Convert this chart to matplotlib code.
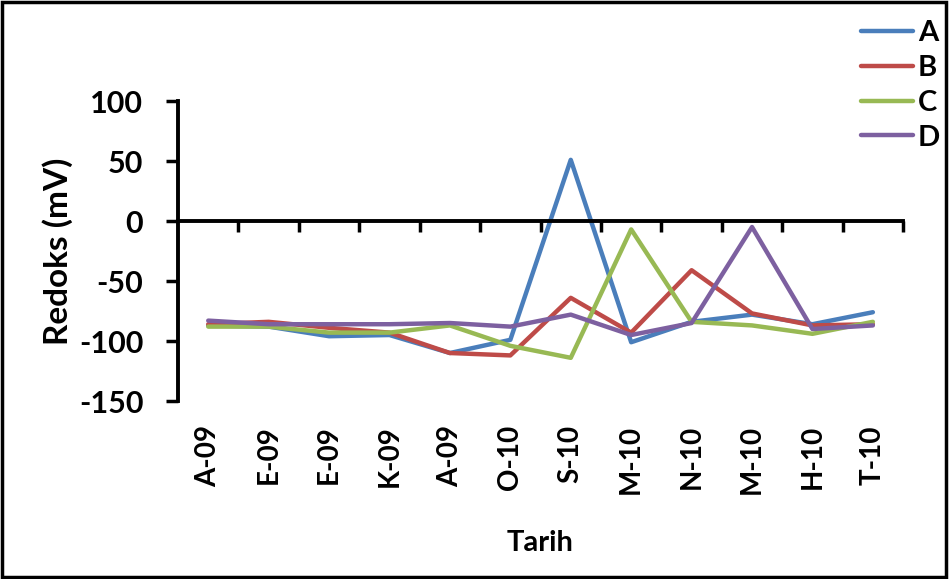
import matplotlib.pyplot as plt
from matplotlib.patches import Rectangle

# months on the x axis
months = ['A-09', 'E-09', 'E-09', 'K-09', 'A-09', 'O-10',
          'S-10', 'M-10', 'N-10', 'M-10', 'H-10', 'T-10']

# redox values (mV)
redox_a = [-87, -88, -96, -95, -110, -99, 51, -101, -84, -78, -86, -76]
redox_b = [-86, -84, -89, -93, -110, -112, -64, -93, -41, -77, -87, -86]
redox_c = [-88, -88, -93, -93, -87, -104, -114, -7, -84, -87, -94, -84]
redox_d = [-83, -86, -86, -86, -85, -88, -78, -95, -85, -5, -90, -87]

series_names = ['A', 'B', 'C', 'D']
colors = ['#4A7EBB', '#BE4B48', '#98B954', '#7D60A0']

plt.rcParams['font.family'] = ['Lato', 'DejaVu Sans']
plt.rcParams['font.weight'] = 'bold'
plt.rcParams['axes.unicode_minus'] = False

fig = plt.figure(figsize=(9.5, 5.79), dpi=100)
ax = fig.add_axes([0.1874, 0.3074, 0.7632, 0.5181])

x = list(range(len(months)))
for vals, name, col in zip([redox_a, redox_b, redox_c, redox_d], series_names, colors):
    ax.plot(x, vals, color=col, lw=3.2, label=name, solid_capstyle='round')

ax.set_xlim(-0.5, len(months) - 0.5)
ax.set_ylim(-150, 100)
ax.set_yticks([-150, -100, -50, 0, 50, 100])

# x axis line goes through zero, labels hang down at the bottom
for side in ['top', 'right']:
    ax.spines[side].set_visible(False)
ax.spines['bottom'].set_position(('data', 0))
ax.spines['bottom'].set_linewidth(2.8)
ax.spines['left'].set_linewidth(2.8)

ax.set_xticks(x)
ax.set_xticks([i + 0.5 for i in x], minor=True)
ax.set_xticklabels(months, rotation=90, fontsize=20, fontweight='bold', va='top')
ax.tick_params(axis='x', which='major', length=0, pad=147)
ax.tick_params(axis='x', which='minor', length=8, width=2.5, direction='out')
ax.tick_params(axis='y', length=9, width=2.5, direction='out', pad=16,
               labelsize=22)
for lbl in ax.get_yticklabels():
    lbl.set_fontweight('bold')

ax.set_ylabel('Redoks (mV)', fontsize=24, fontweight='bold', labelpad=4)
ax.set_xlabel('Tarih', fontsize=21, fontweight='bold', labelpad=26)

leg = fig.legend(loc='upper left', bbox_to_anchor=(0.894, 0.985), frameon=False,
                 fontsize=21, handlelength=1.8, handletextpad=0.15,
                 labelspacing=0.3, borderaxespad=0)
for t in leg.get_texts():
    t.set_fontweight('bold')

fig.patches.append(Rectangle((0.002, 0.004), 0.994, 0.992, transform=fig.transFigure,
                             fill=False, edgecolor='black', lw=2.5))

fig.savefig('out.png', dpi=100)
